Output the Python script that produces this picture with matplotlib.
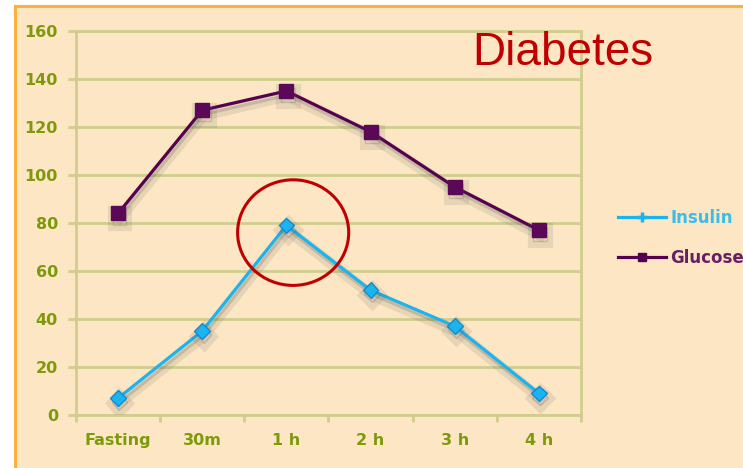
import matplotlib.pyplot as plt
import matplotlib.patheffects as pe
from matplotlib.patches import Ellipse, Rectangle
from matplotlib.lines import Line2D
import numpy as np

# data
times = ["Fasting", "30m", "1 h", "2 h", "3 h", "4 h"]
insulin = [7, 35, 79, 52, 37, 9]
glucose = [84, 127, 135, 118, 95, 77]
y_ticks = [0, 20, 40, 60, 80, 100, 120, 140, 160]

# highlight circle around the insulin peak (data coords)
circle_center = (2.08, 76)
circle_w, circle_h = 1.32, 44

BG = "#FCE6C3"
GRID = "#D0CD8E"
TICK_TXT = "#7C9A0A"
INS_C = "#1AB4F0"
GLU_C = "#560050"

fig = plt.figure(figsize=(7.43, 4.68), dpi=100, facecolor="white")

# beige panel with orange border on top / left
fig.patches.append(Rectangle((15 / 743, -0.05), 1.0, 1 - 6 / 468 + 0.05,
                             transform=fig.transFigure, facecolor=BG,
                             edgecolor="#FBB040", linewidth=2.2, zorder=-5))

ax = fig.add_axes([76 / 743, 1 - 415 / 468, 505 / 743, 384 / 468])
ax.set_facecolor("none")

x = np.arange(len(times))
shadow = [pe.SimpleLineShadow(offset=(1, -3.5), shadow_color="#555555", alpha=0.12, linewidth=8),
          pe.SimpleLineShadow(offset=(1, -3), shadow_color="#555555", alpha=0.22),
          pe.Normal()]

ax.plot(x, insulin, color=INS_C, lw=2.3, marker="D", ms=8,
        mfc=INS_C, mec="#1888CC", mew=1, path_effects=shadow, zorder=3)
ax.plot(x, glucose, color=GLU_C, lw=2.3, marker="s", ms=10,
        mfc="#5C0858", mec="#5C0858", path_effects=shadow, zorder=3)

ax.add_patch(Ellipse(circle_center, circle_w, circle_h, fill=False,
                     edgecolor="#C00000", linewidth=2.2, zorder=4))

ax.set_xlim(-0.5, len(times) - 0.5)
ax.set_ylim(0, 160)
ax.set_yticks(y_ticks)
ax.set_xticks(x)
ax.set_xticklabels(times)
ax.set_xticks(np.arange(-0.5, len(times), 1.0), minor=True)
ax.grid(axis="y", color=GRID, linewidth=2.0, zorder=1)
ax.set_axisbelow(True)
for s in ax.spines.values():
    s.set_color(GRID)
    s.set_linewidth(2.0)
ax.tick_params(axis="y", length=6, width=2, color=GRID, pad=7,
               labelcolor=TICK_TXT, labelsize=11.5)
ax.tick_params(axis="x", which="major", length=0, pad=13,
               labelcolor=TICK_TXT, labelsize=11.5)
ax.tick_params(axis="x", which="minor", length=5, width=2, color=GRID)
for lab in ax.get_xticklabels() + ax.get_yticklabels():
    lab.set_fontweight("bold")

handles = [Line2D([], [], color=INS_C, lw=2.3, marker="+", ms=7, mew=2.5),
           Line2D([], [], color=GLU_C, lw=2.3, marker="s", ms=6)]
fig.legend(handles, ["Insulin", "Glucose"], loc="upper left",
           bbox_to_anchor=(603 / 743, 1 - 194 / 468),
           frameon=False, prop={"size": 12, "weight": "bold"},
           labelcolor=["#3BBDEB", "#6A1E62"],
           handlelength=2.9, handletextpad=0.25, labelspacing=1.3)

fig.text(472 / 743, 1 - 53 / 468, "Diabetes", fontsize=33, color="#C00000",
         family="Liberation Sans", va="center", ha="left")

fig.savefig("out.png", dpi=100, facecolor="white")
